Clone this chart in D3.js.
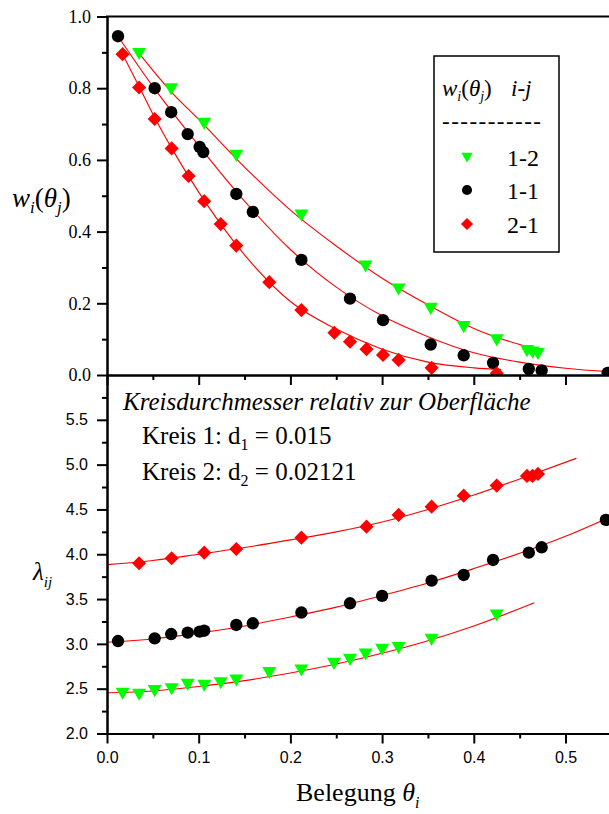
<!DOCTYPE html>
<html>
<head>
<meta charset="utf-8">
<script src="https://cdn.jsdelivr.net/npm/d3@7"></script>
<style>
  html, body { margin: 0; padding: 0; background: #fff; }
  svg { display: block; }
</style>
</head>
<body>
<svg id="chart" width="609" height="814"></svg>
<script>
// ---- upper panel: w_i(theta_j) ----
const wTheta12 = [0.035, 0.070, 0.106, 0.141, 0.212, 0.282, 0.318, 0.353, 0.389, 0.425, 0.458, 0.464, 0.470];
const w12      = [0.897, 0.798, 0.702, 0.613, 0.446, 0.304, 0.240, 0.186, 0.135, 0.098, 0.068, 0.064, 0.060];

const wTheta11 = [0.012, 0.052, 0.070, 0.088, 0.101, 0.105, 0.141, 0.159, 0.212, 0.265, 0.301, 0.353, 0.389, 0.421, 0.460, 0.474, 0.546];
const w11      = [0.945, 0.800, 0.733, 0.672, 0.636, 0.622, 0.505, 0.455, 0.321, 0.213, 0.153, 0.085, 0.055, 0.034, 0.017, 0.013, 0.006];

const wTheta21 = [0.017, 0.035, 0.052, 0.0705, 0.089, 0.106, 0.124, 0.141, 0.177, 0.212, 0.248, 0.265, 0.283, 0.301, 0.318, 0.354, 0.425];
const w21      = [0.895, 0.802, 0.714, 0.632, 0.555, 0.485, 0.421, 0.361, 0.259, 0.181, 0.118, 0.093, 0.072, 0.056, 0.042, 0.020, 0.005];

// fitted curves (theta, w)
const wFit12 = [[0.035,0.897],[0.07,0.79],[0.1,0.713],[0.15,0.58],[0.2,0.46],[0.25,0.36],[0.3,0.27],[0.35,0.196],[0.4,0.13],[0.45,0.085],[0.469,0.072]];
const wFit11 = [[0.012,0.945],[0.05,0.805],[0.1,0.64],[0.15,0.485],[0.2,0.35],[0.25,0.245],[0.3,0.165],[0.35,0.107],[0.4,0.062],[0.45,0.036],[0.5,0.019],[0.55,0.009]];
const wFit21 = [[0.017,0.895],[0.035,0.805],[0.05,0.728],[0.07,0.635],[0.1,0.51],[0.15,0.335],[0.2,0.205],[0.25,0.128],[0.3,0.072],[0.35,0.036],[0.4,0.02],[0.43,0.015]];

// ---- lower panel: lambda_ij ----
const lTheta12 = [0.017, 0.035, 0.052, 0.0705, 0.088, 0.106, 0.124, 0.141, 0.177, 0.212, 0.2475, 0.265, 0.282, 0.300, 0.318, 0.354, 0.425];
const lambda12 = [2.449, 2.438, 2.478, 2.500, 2.549, 2.538, 2.567, 2.597, 2.679, 2.709, 2.783, 2.828, 2.887, 2.940, 2.958, 3.051, 3.323];

const lTheta11 = [0.012, 0.052, 0.070, 0.088, 0.101, 0.106, 0.141, 0.159, 0.212, 0.265, 0.300, 0.354, 0.389, 0.421, 0.460, 0.474, 0.544];
const lambda11 = [3.032, 3.062, 3.110, 3.125, 3.136, 3.147, 3.211, 3.230, 3.350, 3.453, 3.535, 3.705, 3.769, 3.936, 4.018, 4.078, 4.383];

const lTheta21 = [0.035, 0.0705, 0.106, 0.141, 0.212, 0.283, 0.318, 0.354, 0.389, 0.425, 0.458, 0.464, 0.470];
const lambda21 = [3.899, 3.955, 4.018, 4.059, 4.185, 4.308, 4.439, 4.531, 4.654, 4.766, 4.874, 4.874, 4.896];

const lFit12 = [[0,2.455],[0.05,2.475],[0.1,2.525],[0.15,2.59],[0.2,2.675],[0.25,2.775],[0.3,2.895],[0.35,3.035],[0.4,3.2],[0.466,3.46]];
const lFit11 = [[0,3.018],[0.05,3.055],[0.1,3.12],[0.15,3.2],[0.2,3.30],[0.25,3.41],[0.3,3.54],[0.35,3.68],[0.4,3.84],[0.45,4.01],[0.5,4.2],[0.55,4.42]];
const lFit21 = [[0,3.884],[0.05,3.93],[0.1,4.0],[0.15,4.075],[0.2,4.16],[0.25,4.25],[0.3,4.36],[0.35,4.50],[0.4,4.66],[0.45,4.84],[0.512,5.071]];

// ticks
const xTicks     = d3.range(0, 0.551, 0.05);
const xLabels    = [0.0, 0.1, 0.2, 0.3, 0.4, 0.5];
const wTicks     = d3.range(0, 1.001, 0.1);
const wLabels    = [0.0, 0.2, 0.4, 0.6, 0.8, 1.0];
const lTicks     = d3.range(2, 6.001, 0.25);
const lLabels    = [2.0, 2.5, 3.0, 3.5, 4.0, 4.5, 5.0, 5.5];

const legendItems = ["1-2", "1-1", "2-1"];

// ---- layout ----
const SERIF = "'Liberation Serif', 'Times New Roman', Times, serif";
const SANS = "'Liberation Sans', Arial, Helvetica, sans-serif";

const svg = d3.select("#chart");
const X0 = 107, X1 = 611.35;
const TOP = 16.5, MID = 375, BOT = 733.5;

const x = d3.scaleLinear().domain([0, 0.55]).range([X0, X1]);
const yW = d3.scaleLinear().domain([0, 1]).range([MID, TOP]);
const yL = d3.scaleLinear().domain([2, 6]).range([BOT, MID]);

const GREEN = "#00ff00", BLACK = "#000", RED = "#ff0000";
const isMajor = (v, step) => Math.abs(v / step - Math.round(v / step)) < 1e-6;

const symTri = d3.symbol().type(d3.symbolTriangle).size(85)();
const symCirc = d3.symbol().type(d3.symbolCircle).size(120)();
const symDiam = d3.symbol().type(d3.symbolSquare).size(100)();

function drawMarkers(g, xs, ys, yScale, kind) {
  const pts = xs.map((t, i) => [t, ys[i]]);
  const sel = g.selectAll(null).data(pts).enter().append("path");
  if (kind === "tri") {
    sel.attr("d", symTri).attr("fill", GREEN)
      .attr("transform", d => `translate(${x(d[0])},${yScale(d[1]) - 1.5}) rotate(180)`);
  } else if (kind === "circ") {
    sel.attr("d", symCirc).attr("fill", BLACK)
      .attr("transform", d => `translate(${x(d[0])},${yScale(d[1])})`);
  } else {
    sel.attr("d", symDiam).attr("fill", RED)
      .attr("transform", d => `translate(${x(d[0])},${yScale(d[1])}) rotate(45)`);
  }
}

function drawFit(g, pts, yScale) {
  g.append("path")
    .datum(pts)
    .attr("fill", "none")
    .attr("stroke", RED)
    .attr("stroke-width", 1.1)
    .attr("d", d3.line().x(d => x(d[0])).y(d => yScale(d[1])).curve(d3.curveMonotoneX));
}

// clip regions
const defs = svg.append("defs");
defs.append("clipPath").attr("id", "clipTop")
  .append("rect").attr("x", X0).attr("y", 0).attr("width", 609 - X0).attr("height", MID - 0);
defs.append("clipPath").attr("id", "clipBot")
  .append("rect").attr("x", X0).attr("y", MID).attr("width", 609 - X0).attr("height", BOT - MID);

// ---- upper panel marks ----
const gTop = svg.append("g").attr("clip-path", "url(#clipTop)");
drawFit(gTop, wFit12, yW);
drawFit(gTop, wFit11, yW);
drawFit(gTop, wFit21, yW);
drawMarkers(gTop, wTheta12, w12, yW, "tri");
drawMarkers(gTop, wTheta11, w11, yW, "circ");
drawMarkers(gTop, wTheta21, w21, yW, "diam");

// ---- lower panel marks ----
const gBot = svg.append("g").attr("clip-path", "url(#clipBot)");
drawFit(gBot, lFit12, yL);
drawFit(gBot, lFit11, yL);
drawFit(gBot, lFit21, yL);
drawMarkers(gBot, lTheta12, lambda12, yL, "tri");
drawMarkers(gBot, lTheta11, lambda11, yL, "circ");
drawMarkers(gBot, lTheta21, lambda21, yL, "diam");

// ---- axes ----
function styleAxis(g, family, fontSize) {
  g.attr("font-family", family).attr("font-size", fontSize);
  g.select(".domain").attr("stroke-width", 2);
  g.selectAll(".tick line").attr("stroke-width", 2);
  g.selectAll(".tick text").style("font-family", family).style("font-size", fontSize + "px").attr("fill", "#000");
}

// upper y axis
const axWmin = svg.append("g").attr("transform", `translate(${X0},0)`)
  .call(d3.axisLeft(yW).tickValues(wTicks.filter(v => !isMajor(v, 0.2))).tickSize(5).tickSizeOuter(0).tickFormat(""));
styleAxis(axWmin, SERIF, 18);
const axW = svg.append("g").attr("transform", `translate(${X0},0)`)
  .call(d3.axisLeft(yW).tickValues(wLabels).tickSize(10).tickPadding(6).tickSizeOuter(0).tickFormat(d3.format(".1f")));
styleAxis(axW, SERIF, 18);

// upper x axis (no labels) at the panel bottom
const axXTopMin = svg.append("g").attr("transform", `translate(0,${MID})`)
  .call(d3.axisBottom(x).tickValues(xTicks.filter(v => !isMajor(v, 0.1))).tickSize(5).tickSizeOuter(0).tickFormat(""));
styleAxis(axXTopMin, SANS, 16);
const axXTop = svg.append("g").attr("transform", `translate(0,${MID})`)
  .call(d3.axisBottom(x).tickValues(xLabels).tickSize(10).tickSizeOuter(0).tickFormat(""));
styleAxis(axXTop, SANS, 16);

// upper frame line
svg.append("line").attr("x1", X0 - 1).attr("x2", X1).attr("y1", TOP).attr("y2", TOP)
  .attr("stroke", "#000").attr("stroke-width", 2);

// lower y axis
const axLmin = svg.append("g").attr("transform", `translate(${X0},0)`)
  .call(d3.axisLeft(yL).tickValues(lTicks.filter(v => !isMajor(v, 0.5))).tickSize(5).tickSizeOuter(0).tickFormat(""));
styleAxis(axLmin, SANS, 16);
const axL = svg.append("g").attr("transform", `translate(${X0},0)`)
  .call(d3.axisLeft(yL).tickValues(lLabels).tickSize(10).tickPadding(9).tickSizeOuter(0).tickFormat(d3.format(".1f")));
styleAxis(axL, SANS, 16);

// lower x axis
const axXmin = svg.append("g").attr("transform", `translate(0,${BOT})`)
  .call(d3.axisBottom(x).tickValues(xTicks.filter(v => !isMajor(v, 0.1))).tickSize(5).tickSizeOuter(0).tickFormat(""));
styleAxis(axXmin, SANS, 16);
const axX = svg.append("g").attr("transform", `translate(0,${BOT})`)
  .call(d3.axisBottom(x).tickValues(xLabels).tickSize(10).tickPadding(8).tickSizeOuter(0).tickFormat(d3.format(".1f")));
styleAxis(axX, SANS, 16);

// ---- text helper ----
function serifText(parent, xPos, yPos, size) {
  return parent.append("text").attr("x", xPos).attr("y", yPos)
    .style("font-family", SERIF).style("font-size", size + "px").attr("fill", "#000");
}

// ---- axis titles ----
const wLab = serifText(svg, 12, 207, 27);
wLab.append("tspan").attr("font-style", "italic").text("w");
wLab.append("tspan").attr("font-style", "italic").style("font-size", "17px").attr("dy", 6).text("i");
wLab.append("tspan").attr("dy", -6).text("(");
wLab.append("tspan").attr("font-style", "italic").text("θ");
wLab.append("tspan").attr("font-style", "italic").style("font-size", "17px").attr("dy", 6).text("j");
wLab.append("tspan").attr("dy", -6).text(")");

const lLab = serifText(svg, 33, 580, 25);
lLab.append("tspan").attr("font-style", "italic").text("λ");
lLab.append("tspan").attr("font-style", "italic").style("font-size", "15px").attr("dy", 7).text("ij");

const xLab = serifText(svg, 296, 801, 26);
xLab.append("tspan").text("Belegung ");
xLab.append("tspan").attr("font-style", "italic").text("θ");
xLab.append("tspan").attr("font-style", "italic").style("font-size", "16px").attr("dy", 7).text("i");

// ---- legend ----
const lg = svg.append("g");
lg.append("rect").attr("x", 434).attr("y", 56).attr("width", 125).attr("height", 196)
  .attr("fill", "#fff").attr("stroke", "#000").attr("stroke-width", 1.5);
const lt = serifText(lg, 442, 96, 23);
lt.append("tspan").attr("font-style", "italic").text("w");
lt.append("tspan").attr("font-style", "italic").style("font-size", "14px").attr("dy", 5).text("i");
lt.append("tspan").attr("dy", -5).text("(");
lt.append("tspan").attr("font-style", "italic").text("θ");
lt.append("tspan").attr("font-style", "italic").style("font-size", "14px").attr("dy", 5).text("j");
lt.append("tspan").attr("dy", -5).text(")");
lt.append("tspan").attr("font-style", "italic").attr("x", 511).text("i-j");
serifText(lg, 442, 129, 23)
  .attr("textLength", 99).attr("lengthAdjust", "spacing").text("-----------");

const legY = [157, 190, 224];
const legSyms = [
  { d: d3.symbol().type(d3.symbolTriangle).size(55)(), fill: GREEN, rot: 180, dy: -1 },
  { d: d3.symbol().type(d3.symbolCircle).size(80)(), fill: BLACK, rot: 0, dy: 0 },
  { d: d3.symbol().type(d3.symbolSquare).size(75)(), fill: RED, rot: 45, dy: 0 }
];
legendItems.forEach((name, i) => {
  lg.append("path").attr("d", legSyms[i].d).attr("fill", legSyms[i].fill)
    .attr("transform", `translate(467,${legY[i] + legSyms[i].dy}) rotate(${legSyms[i].rot})`);
  serifText(lg, 507, legY[i] + 8.5, 24).text(name);
});

// ---- annotations ----
serifText(svg, 123, 410, 25).attr("font-style", "italic")
  .text("Kreisdurchmesser relativ zur Oberfläche");
const k1 = serifText(svg, 142, 444, 25);
k1.append("tspan").text("Kreis 1: d");
k1.append("tspan").style("font-size", "16px").attr("dy", 6).text("1");
k1.append("tspan").attr("dy", -6).text(" = 0.015");
const k2 = serifText(svg, 142, 480, 25);
k2.append("tspan").text("Kreis 2: d");
k2.append("tspan").style("font-size", "16px").attr("dy", 6).text("2");
k2.append("tspan").attr("dy", -6).text(" = 0.02121");
</script>
</body>
</html>
